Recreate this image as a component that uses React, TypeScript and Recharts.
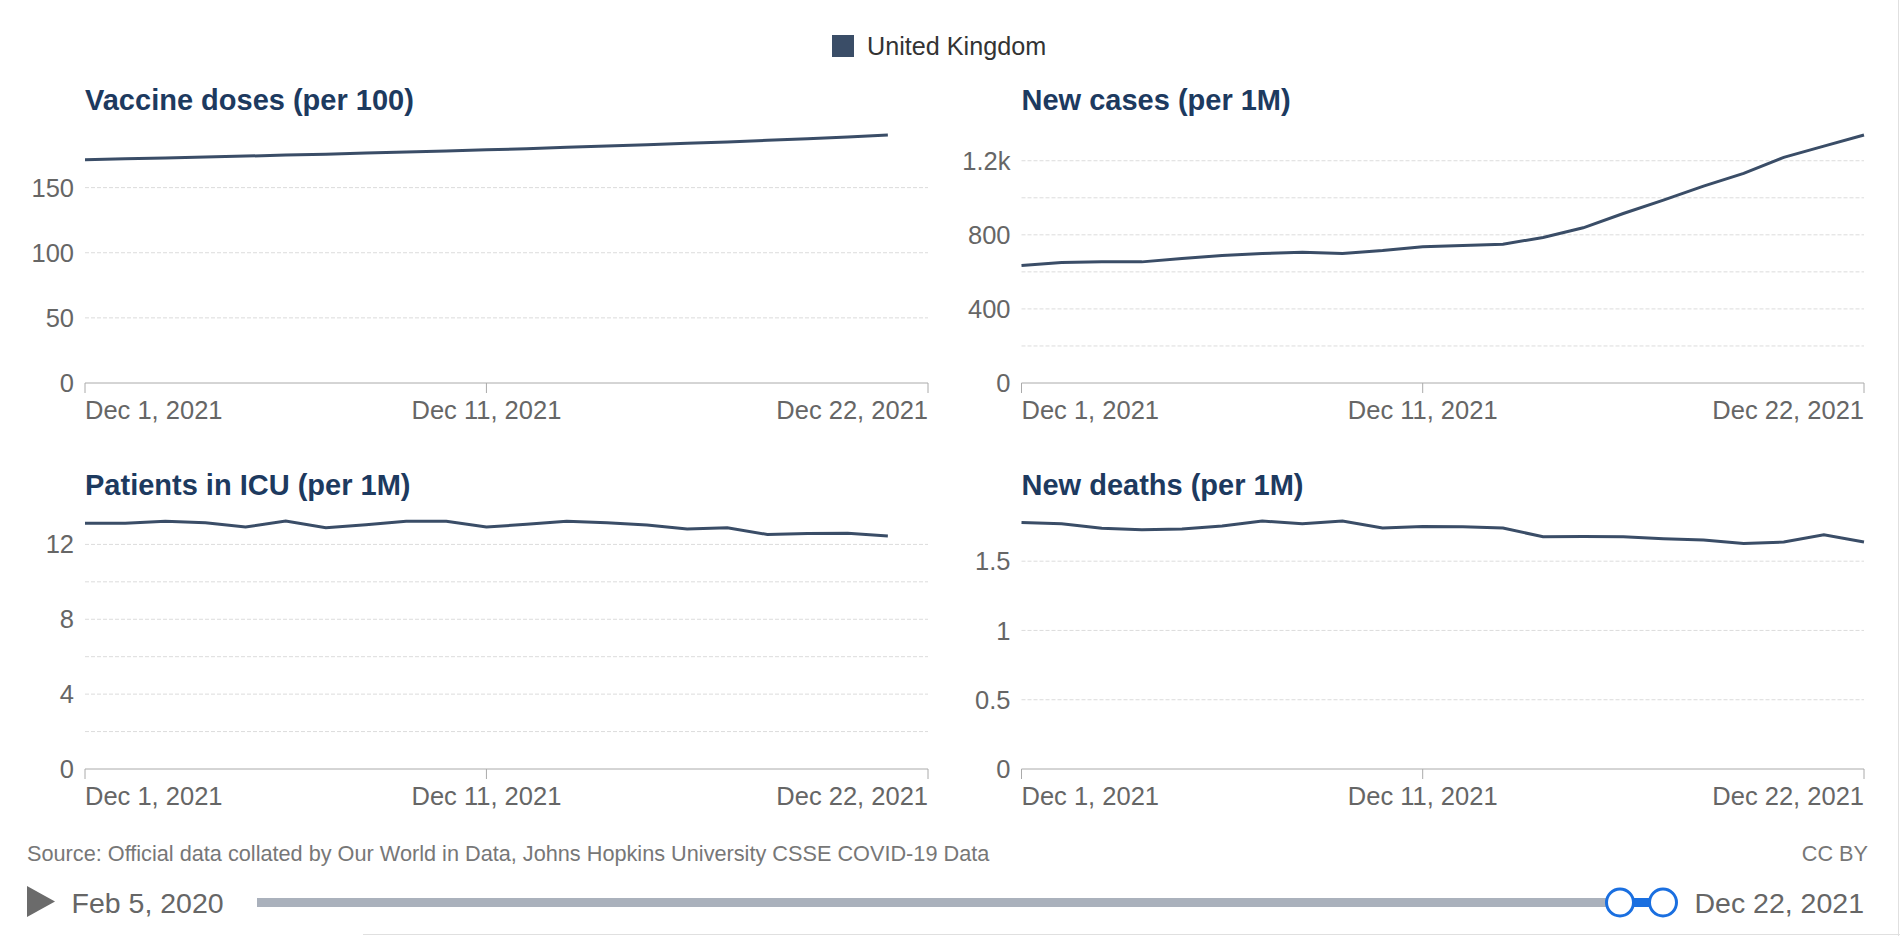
import React from 'react';
import { LineChart, Line, XAxis, YAxis, CartesianGrid } from 'recharts';

const days = [1, 2, 3, 4, 5, 6, 7, 8, 9, 10, 11, 12, 13, 14, 15, 16, 17, 18, 19, 20, 21, 22];
const xTickValues = [1, 11, 22];
const xTickLabels = ['Dec 1, 2021', 'Dec 11, 2021', 'Dec 22, 2021'];

const vaccineDoses = [171.4, 172.1, 172.8, 173.5, 174.2, 175.0, 175.7, 176.5, 177.3, 178.1, 179.0, 179.9, 180.9, 181.9, 182.9, 184.0, 185.1, 186.3, 187.5, 188.9, 190.4];
const newCases = [634, 650, 654, 654, 672, 688, 699, 706, 699, 715, 736, 742, 749, 786, 838, 915, 987, 1063, 1132, 1218, 1279, 1339];
const icuPatients = [13.13, 13.13, 13.23, 13.16, 12.93, 13.25, 12.89, 13.05, 13.23, 13.23, 12.93, 13.07, 13.23, 13.16, 13.04, 12.82, 12.89, 12.53, 12.58, 12.6, 12.45];
const newDeaths = [1.78, 1.77, 1.737, 1.727, 1.732, 1.754, 1.79, 1.77, 1.79, 1.739, 1.751, 1.749, 1.739, 1.676, 1.678, 1.676, 1.662, 1.652, 1.628, 1.638, 1.691, 1.638];

const vaccineTicks = [0, 50, 100, 150];
const vaccineTickLabels = ['0', '50', '100', '150'];
const casesTicks = [0, 200, 400, 600, 800, 1000, 1200];
const casesTickLabels = ['0', '', '400', '', '800', '', '1.2k'];
const icuTicks = [0, 2, 4, 6, 8, 10, 12];
const icuTickLabels = ['0', '', '4', '', '8', '', '12'];
const deathsTicks = [0, 0.5, 1, 1.5];
const deathsTickLabels = ['0', '0.5', '1', '1.5'];

const titles = ['Vaccine doses (per 100)', 'New cases (per 1M)', 'Patients in ICU (per 1M)', 'New deaths (per 1M)'];
const countryName = 'United Kingdom';
const sourceText = 'Source: Official data collated by Our World in Data, Johns Hopkins University CSSE COVID-19 Data';
const licenseText = 'CC BY';
const timelineStart = 'Feb 5, 2020';
const timelineEnd = 'Dec 22, 2021';

const FONT = '"Liberation Sans", Arial, Helvetica, sans-serif';
const LINE_COLOR = '#3a4d67';
const TITLE_COLOR = '#1d3a5f';
const TICK_COLOR = '#666';

const CHART_H = 320;
const MARGIN_TOP = 15;
const XAXIS_H = 57;

const toData = (values: number[]) => days.map((d, i) => ({ day: d, value: i < values.length ? values[i] : null }));

const XTick = (props: any) => {
  const { x, y, payload } = props;
  const idx = xTickValues.indexOf(payload.value);
  const anchor = idx === 0 ? 'start' : idx === xTickValues.length - 1 ? 'end' : 'middle';
  return (
    <text x={x} y={y} dy="0.71em" textAnchor={anchor} fill={TICK_COLOR} fontSize={25.5} fontFamily={FONT}>
      {xTickLabels[idx]}
    </text>
  );
};

type PanelProps = {
  left: number;
  top: number;
  width: number;
  yAxisWidth: number;
  marginRight: number;
  values: number[];
  ticks: number[];
  tickLabels: string[];
};

const Panel = ({ left, top, width, yAxisWidth, marginRight, values, ticks, tickLabels }: PanelProps) => {
  const maxVal = Math.max(...values);
  const gridGen = (args: any) => {
    const off = args && args.offset ? args.offset : null;
    const pTop = off && typeof off.top === 'number' ? off.top : MARGIN_TOP;
    const pH = off && typeof off.height === 'number' ? off.height : CHART_H - MARGIN_TOP - XAXIS_H;
    return ticks.filter((t) => t > 0).map((t) => pTop + pH * (1 - t / maxVal));
  };
  return (
    <div style={{ position: 'absolute', left, top }}>
      <LineChart width={width} height={CHART_H} data={toData(values)} margin={{ top: MARGIN_TOP, right: marginRight, bottom: 0, left: 0 }}>
        <CartesianGrid vertical={false} stroke="#dcdcdc" strokeDasharray="4 2" horizontalCoordinatesGenerator={gridGen} />
        <XAxis
          type="number"
          dataKey="day"
          domain={[1, 22]}
          ticks={xTickValues}
          interval={0}
          tickSize={10}
          tickMargin={8}
          stroke="#aaa"
          height={XAXIS_H}
          tick={<XTick />}
        />
        <YAxis
          type="number"
          domain={[0, 'dataMax']}
          ticks={ticks}
          interval={0}
          axisLine={false}
          tickLine={false}
          width={yAxisWidth}
          tickMargin={5}
          tick={{ fill: TICK_COLOR, fontSize: 25.5, fontFamily: FONT }}
          tickFormatter={(v: number) => tickLabels[ticks.indexOf(v)] ?? ''}
        />
        <Line type="linear" dataKey="value" stroke={LINE_COLOR} strokeWidth={3} dot={false} isAnimationActive={false} connectNulls={false} />
      </LineChart>
    </div>
  );
};

export default function App() {
  return (
    <div style={{ position: 'absolute', left: 0, top: 0, width: 1900, height: 936, background: '#fff', fontFamily: FONT, overflow: 'hidden' }}>
      <Panel left={0} top={120} width={950} yAxisWidth={85} marginRight={22} values={vaccineDoses} ticks={vaccineTicks} tickLabels={vaccineTickLabels} />
      <Panel left={936} top={120} width={948} yAxisWidth={85.5} marginRight={20} values={newCases} ticks={casesTicks} tickLabels={casesTickLabels} />
      <Panel left={0} top={506} width={950} yAxisWidth={85} marginRight={22} values={icuPatients} ticks={icuTicks} tickLabels={icuTickLabels} />
      <Panel left={936} top={506} width={948} yAxisWidth={85.5} marginRight={20} values={newDeaths} ticks={deathsTicks} tickLabels={deathsTickLabels} />

      <svg width={1900} height={936} style={{ position: 'absolute', left: 0, top: 0, pointerEvents: 'none' }}>
        <rect x={832} y={35} width={22} height={22} fill={LINE_COLOR} />
        <text x={867} y={54.5} fontSize={25.2} fill="#333" fontFamily={FONT}>{countryName}</text>

        <text x={85} y={110} fontSize={29} fontWeight="bold" fill={TITLE_COLOR} fontFamily={FONT}>{titles[0]}</text>
        <text x={1021.5} y={110} fontSize={29} fontWeight="bold" fill={TITLE_COLOR} fontFamily={FONT}>{titles[1]}</text>
        <text x={85} y={495} fontSize={29} fontWeight="bold" fill={TITLE_COLOR} fontFamily={FONT}>{titles[2]}</text>
        <text x={1021.5} y={495} fontSize={29} fontWeight="bold" fill={TITLE_COLOR} fontFamily={FONT}>{titles[3]}</text>

        <text x={27} y={861} fontSize={21.7} fill="#777" fontFamily={FONT}>{sourceText}</text>
        <text x={1868} y={861} fontSize={21.7} fill="#777" fontFamily={FONT} textAnchor="end">{licenseText}</text>

        <polygon points="27,886 27,917 55,901.5" fill="#6b6b6b" />
        <text x={71.5} y={913} fontSize={28.5} fill="#666" fontFamily={FONT}>{timelineStart}</text>
        <rect x={257} y={898} width={1370} height={9} fill="#aab1bc" />
        <rect x={1620} y={898} width={43} height={9} fill="#1a6fe0" />
        <circle cx={1620} cy={902.5} r={13.5} fill="#fff" stroke="#1a6fe0" strokeWidth={3} />
        <circle cx={1663} cy={902.5} r={13.5} fill="#fff" stroke="#1a6fe0" strokeWidth={3} />
        <text x={1864} y={913} fontSize={28.5} fill="#666" fontFamily={FONT} textAnchor="end">{timelineEnd}</text>

        <line x1={363} y1={934.5} x2={1900} y2={934.5} stroke="#e0e0e0" strokeWidth={1} />
        <line x1={1898.5} y1={0} x2={1898.5} y2={936} stroke="#e0e0e0" strokeWidth={1} />
      </svg>
    </div>
  );
}
